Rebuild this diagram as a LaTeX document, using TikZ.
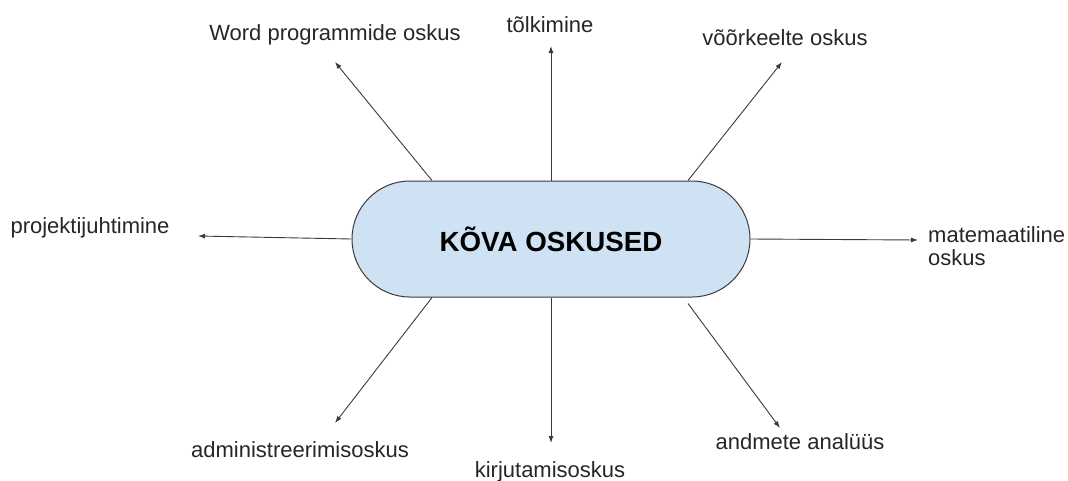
\documentclass[tikz,border=0pt]{standalone}
\usepackage{fontspec}
\setmainfont{Liberation Sans}
\usetikzlibrary{arrows.meta}
\definecolor{hardfill}{HTML}{CFE2F3}
\definecolor{linegray}{HTML}{3A3A3A}
\begin{document}
\begin{tikzpicture}[x=1pt, y=-1pt,
    skill/.style={anchor=base, inner sep=0pt, text=black!85, font=\fontsize{22}{23}\selectfont},
    link/.style={draw=linegray, line width=0.9pt, -{Latex[length=7pt, width=5pt]}},
    core/.style={draw=linegray, line width=1pt, fill=hardfill, rounded corners=58pt,
        minimum width=398pt, minimum height=116pt, font=\fontsize{27.7}{30}\selectfont\bfseries}]
    \useasboundingbox (0,0) rectangle (1068,480);
    \node[core] (hard) at (551,239) {KÕVA OSKUSED};

    \node[skill] (word) at (335,40) {Word programmide oskus};
    \node[skill] (tolk) at (550,32) {tõlkimine};
    \node[skill] (keeled) at (785,45) {võõrkeelte oskus};
    \node[skill] (projekt) at (90,233) {projektijuhtimine};
    \node[skill, anchor=base west, align=left] (mate) at (928,265) {matemaatiline\\oskus};
    \node[skill] (admin) at (300,457) {administreerimisoskus};
    \node[skill] (kiri) at (550,477) {kirjutamisoskus};
    \node[skill] (andmed) at (800,449) {andmete analüüs};

    \coordinate (wordtip) at (335,62);
    \coordinate (tolktip) at (551,46);
    \coordinate (keeledtip) at (782,62);
    \coordinate (projekttip) at (198,236);
    \coordinate (matetip) at (918,240);
    \coordinate (admintip) at (335,423);
    \coordinate (kiritip) at (551,443);
    \coordinate (andmedtip) at (780,428);

    \draw[link] ([xshift=-119pt]hard.north) -- (wordtip);
    \draw[link] (hard.north) -- (tolktip);
    \draw[link] ([xshift=137pt]hard.north) -- (keeledtip);
    \draw[link] (hard.west) -- (projekttip);
    \draw[link] (hard.east) -- (matetip);
    \draw[link] ([xshift=-119pt]hard.south) -- (admintip);
    \draw[link] (hard.south) -- (kiritip);
    \draw[link] ([xshift=137pt, yshift=-6pt]hard.south) -- (andmedtip);
\end{tikzpicture}
\end{document}
